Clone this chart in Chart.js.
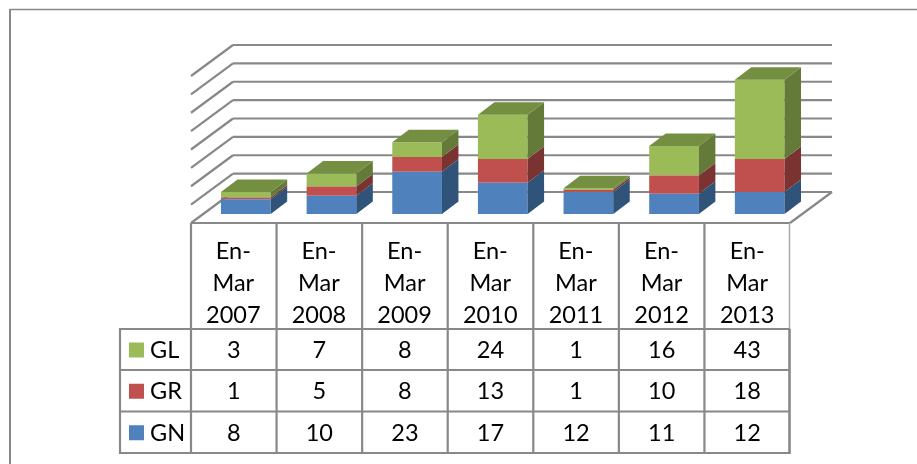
<!DOCTYPE html>
<html><head><meta charset="utf-8">
<style>html,body{margin:0;padding:0;background:#fff;overflow:hidden}canvas{display:block}</style>
<script src="https://cdn.jsdelivr.net/npm/chart.js@4"></script></head>
<body><canvas id="c" width="917" height="464" style="width:917px;height:464px"></canvas>
<script>
const categories=[["En-","Mar","2007"],["En-","Mar","2008"],["En-","Mar","2009"],["En-","Mar","2010"],["En-","Mar","2011"],["En-","Mar","2012"],["En-","Mar","2013"]];
const GN=[8,10,23,17,12,11,12];
const GR=[1,5,8,13,1,10,18];
const GL=[3,7,8,24,1,16,43];
const yMax=80,yStep=10;

const LINE="#888888",FONT="Lato";
const FLOOR={l:191,r:790,front:223,dx:42,dy:31};
const BAR_DEPTH={dx:16.5,dy:12.5};
const faces={
  GN:{front:"#4f81bd",side:"#2f5379",top:"#3d6896"},
  GR:{front:"#c0504d",side:"#7b3331",top:"#99403d"},
  GL:{front:"#9bbb59",side:"#647a39",top:"#748f41"}
};
const ROWS=[{name:"GL",vals:GL,y0:329,y1:370},{name:"GR",vals:GR,y0:370,y1:411.5},{name:"GN",vals:GN,y0:411.5,y1:453}];

function seg(c,x0,y0,x1,y1,w,col){c.beginPath();c.moveTo(x0,y0);c.lineTo(x1,y1);c.lineWidth=w;c.strokeStyle=col||LINE;c.stroke();}
function poly(c,pts,col){c.beginPath();pts.forEach((p,i)=>i?c.lineTo(p[0],p[1]):c.moveTo(p[0],p[1]));c.closePath();c.fillStyle=col;c.fill();}

const scene={id:"scene",
  beforeDatasetsDraw(ch){
    const c=ch.ctx,y=ch.scales.y;c.save();
    seg(c,10,9.5,917,9.5,1.5);seg(c,10,9,10,464,2);
    const base=y.getPixelForValue(0),off=FLOOR.front-base;
    for(let v=yStep;v<=yMax;v+=yStep){
      const py=y.getPixelForValue(v)+off;
      seg(c,FLOOR.l,py,FLOOR.l+FLOOR.dx,py-FLOOR.dy,2.2);
      seg(c,FLOOR.l+FLOOR.dx,py-FLOOR.dy,FLOOR.r+FLOOR.dx,py-FLOOR.dy,2.2);
    }
    const F=FLOOR;
    seg(c,F.l,F.front,F.l+F.dx,F.front-F.dy,2.2);
    seg(c,F.l+F.dx,F.front-F.dy,F.r+F.dx,F.front-F.dy,2.2);
    seg(c,F.r+F.dx,F.front-F.dy,F.r,F.front,2.2);
    c.restore();
  },
  afterDatasetsDraw(ch){
    const c=ch.ctx;c.save();
    const D=BAR_DEPTH;
    ch.data.datasets.forEach((ds,di)=>{
      const f=faces[ds.label];
      ch.getDatasetMeta(di).data.forEach(b=>{
        const r=b.x+b.width/2,l=b.x-b.width/2,t=b.y,bot=b.base;
        poly(c,[[r,t],[r+D.dx,t-D.dy],[r+D.dx,bot-D.dy],[r,bot]],f.side);
        if(di===ch.data.datasets.length-1) poly(c,[[l,t],[l+D.dx,t-D.dy],[r+D.dx,t-D.dy],[r,t]],f.top);
      });
    });
    const F=FLOOR,step=(F.r-F.l)/categories.length,top=F.front;
    seg(c,F.l,F.front,F.r,F.front,2.2);
    for(let i=0;i<categories.length;i++){const x=F.l+i*step;seg(c,x,top,x,453,2.2);}
    seg(c,F.r-0.5,top,F.r-0.5,329,1.5,"#a8a8a8");
    seg(c,F.r-0.5,329,F.r-0.5,454,2.6);
    seg(c,120,329,F.r,329,2.2);
    ROWS.forEach(r=>seg(c,120,r.y1,F.r,r.y1,2.2));
    seg(c,120,328,120,454,2.2);
    c.font="23.5px "+FONT;c.textBaseline="middle";
    ROWS.forEach(r=>{
      const my=(r.y0+r.y1)/2+1;
      c.fillStyle=faces[r.name].front;c.fillRect(129,my-8,15,15);
      c.fillStyle="#000";c.textAlign="left";c.fillText(r.name,150,my);
      c.textAlign="center";
      r.vals.forEach((v,i)=>c.fillText(String(v),F.l+(i+.5)*step,my));
    });
    c.restore();
  }
};

const barOpts={stack:"s",categoryPercentage:.58,barPercentage:1};
new Chart(document.getElementById("c"),{
  type:"bar",
  data:{labels:categories,datasets:[
    {label:"GN",data:GN,backgroundColor:faces.GN.front,...barOpts},
    {label:"GR",data:GR,backgroundColor:faces.GR.front,...barOpts},
    {label:"GL",data:GL,backgroundColor:faces.GL.front,...barOpts}
  ]},
  plugins:[scene],
  options:{
    responsive:false,animation:false,devicePixelRatio:1,
    layout:{padding:{left:203,right:114.5,top:67,bottom:0}},
    plugins:{legend:{display:false},title:{display:false},tooltip:{enabled:false}},
    scales:{
      x:{stacked:true,
        grid:{display:false},border:{display:false},
        afterFit(s){s.height=250;},
        ticks:{maxRotation:0,autoSkip:false,color:"#000",padding:13,labelOffset:-12.5,font:{family:FONT,size:23.5,lineHeight:1.362}}},
      y:{stacked:true,display:false,min:0,max:yMax}
    }
  }
});
</script>
</body></html>
